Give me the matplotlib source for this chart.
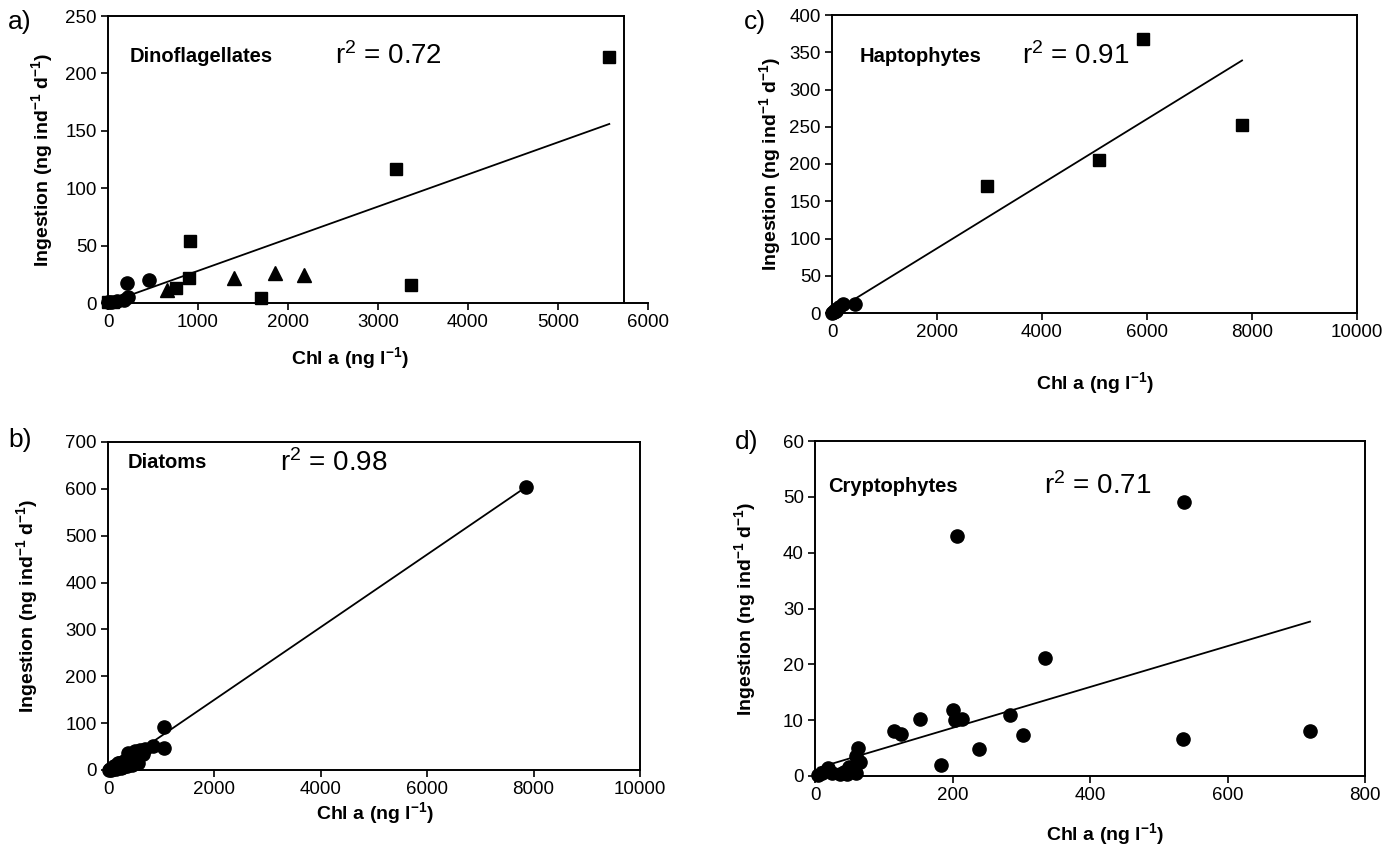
import matplotlib
matplotlib.use("Agg")
import matplotlib.pyplot as plt
import numpy as np

plt.rcParams['font.family'] = ['Liberation Sans', 'DejaVu Sans']
plt.rcParams['mathtext.fontset'] = 'custom'
plt.rcParams['mathtext.rm'] = 'Liberation Sans'
plt.rcParams['mathtext.bf'] = 'Liberation Sans:bold'
plt.rcParams['mathtext.it'] = 'Liberation Sans:italic'

# ---- a) Dinoflagellates ----
dino_sq_x = [5570, 3205, 3370, 910, 900, 750, 1700, 0, 60]
dino_sq_y = [214, 117, 16, 54, 22, 13, 4, 0.5, 1]
dino_tri_x = [650, 1400, 1850, 2180]
dino_tri_y = [11, 22, 26, 24]
dino_ci_x = [210, 450, 0, 30, 100, 180, 220]
dino_ci_y = [17, 20, 0.5, 1, 2, 3, 5]
dino_fit = (0.0280, 0.0)      # slope, intercept
dino_r2 = "0.72"

# ---- b) Diatoms ----
diat_x = [20, 40, 60, 80, 100, 120, 150, 170, 200, 220, 250, 270, 300, 320,
          350, 380, 400, 420, 450, 480, 500, 530, 560, 600, 650, 700, 840,
          1050, 1050, 7850, 150, 250, 350, 450, 300, 200, 100, 50, 180, 280]
diat_y = [1, 2, 3, 4, 5, 8, 6, 10, 12, 9, 14, 11, 15, 18,
          13, 36, 20, 25, 28, 22, 40, 30, 16, 42, 35, 44, 52,
          92, 47, 603, 3, 5, 8, 10, 20, 15, 2, 1, 14, 6]
diat_fit = (0.0775, -5.0)
diat_r2 = "0.98"

# ---- c) Haptophytes ----
hapt_sq_x = [2960, 5080, 5920, 7810]
hapt_sq_y = [171, 205, 368, 252]
hapt_ci_x = [0, 20, 40, 60, 80, 100, 130, 215, 440]
hapt_ci_y = [0, 1, 2, 4, 3, 6, 8, 12, 12]
hapt_fit = (0.0434, 0.0)
hapt_r2 = "0.91"

# ---- d) Cryptophytes ----
cryp_x = [200, 204, 214, 283, 303, 238, 183, 152, 115, 125, 62, 59, 65, 55,
          50, 60, 19, 10, 36, 46, 5, 206, 537, 335, 535, 720, 25, 42]
cryp_y = [11.9, 10, 10.2, 10.9, 7.3, 4.9, 2, 10.2, 8, 7.5, 5.1, 3.6, 2.5, 1.5,
          1.6, 0.6, 1.5, 0.6, 0.3, 0.3, 0.1, 43, 49, 21.2, 6.6, 8, 0.5, 0.8]
cryp_fit = (0.0366, 1.3)
cryp_r2 = "0.71"

W, H = 1400, 861
fig = plt.figure(figsize=(W / 100, H / 100), dpi=100)

YLAB = r'Ingestion (ng ind$^{\mathbf{-1}}$ d$^{\mathbf{-1}}$)'
XLAB = r'Chl a (ng l$^{\mathbf{-1}}$)'


class Panel:
    def __init__(self, left, top, right, bottom):
        self.box = (left, top, right, bottom)
        self.ax = fig.add_axes([left / W, 1 - bottom / H,
                                (right - left) / W, (bottom - top) / H])

    def fx(self, px):
        l, t, r, b = self.box
        return (px - l) / (r - l)

    def fy(self, py):
        l, t, r, b = self.box
        return (b - py) / (b - t)


def style(p, xlim, xticks, ylim, yticks, ylab_px, xlab_px):
    ax = p.ax
    ax.set_xlim(*xlim)
    ax.set_ylim(*ylim)
    ax.set_xticks(xticks)
    ax.set_yticks(yticks)
    ax.tick_params(direction='out', length=5, width=1.2, labelsize=13.5, pad=3,
                   colors='black')
    for s in ax.spines.values():
        s.set_linewidth(1.4)
        s.set_color('black')
    ax.set_ylabel(YLAB, fontsize=14, fontweight='bold')
    ax.set_xlabel(XLAB, fontsize=14, fontweight='bold')
    ax.yaxis.set_label_coords(p.fx(ylab_px), 0.5)
    ax.xaxis.set_label_coords(p.fx(xlab_px[0]), p.fy(xlab_px[1]))


def fit_line(ax, xs, fit):
    slope, icpt = fit
    xx = np.array([min(xs), max(xs)])
    ax.plot(xx, slope * xx + icpt, color='black', lw=1.3, zorder=2)


def titles(p, name, r2, name_px, r2_px, y_px):
    p.ax.text(p.fx(name_px), p.fy(y_px), name, transform=p.ax.transAxes,
              fontsize=14.5, fontweight='bold', va='center', ha='left')
    p.ax.text(p.fx(r2_px), p.fy(y_px), r'r$^2$ = ' + r2, transform=p.ax.transAxes,
              fontsize=20, va='center', ha='left')


mk = dict(color='black', linestyle='none', zorder=3, clip_on=False)

# a)
pa = Panel(108, 16, 648, 303)
ax = pa.ax
fit_line(ax, dino_sq_x + dino_tri_x + dino_ci_x, dino_fit)
ax.plot(dino_sq_x, dino_sq_y, marker='s', ms=8.5, **mk)
ax.plot(dino_tri_x, dino_tri_y, marker='^', ms=9.5, **mk)
ax.plot(dino_ci_x, dino_ci_y, marker='o', ms=9.5, **mk)
style(pa, (0, 6000), range(0, 6001, 1000), (0, 250), range(0, 251, 50),
      55, (350, 345))
# plot-area border closes before the end of the x axis
frame_x = 6000 * pa.fx(624)
ax.spines['right'].set_visible(False)
ax.spines['top'].set_bounds(0, frame_x)
ax.plot([frame_x, frame_x], [0, 250], color='black', lw=1.4, clip_on=False,
        zorder=1)
titles(pa, 'Dinoflagellates', dino_r2, 130, 335, 56)

# c)
pc = Panel(832, 15, 1357, 313)
ax = pc.ax
fit_line(ax, hapt_sq_x + hapt_ci_x, hapt_fit)
ax.plot(hapt_sq_x, hapt_sq_y, marker='s', ms=8.5, **mk)
ax.plot(hapt_ci_x, hapt_ci_y, marker='o', ms=9.5, **mk)
style(pc, (0, 10000), range(0, 10001, 2000), (0, 400), range(0, 401, 50),
      783, (1095, 370))
titles(pc, 'Haptophytes', hapt_r2, 860, 1022, 56)

# b)
pb = Panel(108, 442, 640, 770)
ax = pb.ax
fit_line(ax, diat_x, diat_fit)
ax.plot(diat_x, diat_y, marker='o', ms=9.5, **mk)
style(pb, (0, 10000), range(0, 10001, 2000), (0, 700), range(0, 701, 100),
      40, (375, 800))
titles(pb, 'Diatoms', diat_r2, 128, 280, 463)

# d)
pd_ = Panel(815, 441, 1365, 776)
ax = pd_.ax
fit_line(ax, cryp_x, cryp_fit)
ax.plot(cryp_x, cryp_y, marker='o', ms=9.5, **mk)
style(pd_, (0, 800), range(0, 801, 200), (0, 60), range(0, 61, 10),
      758, (1105, 821))
titles(pd_, 'Cryptophytes', cryp_r2, 828, 1044, 486)

for lab, x, y in [('a)', 8, 22), ('c)', 744, 22), ('b)', 8, 440), ('d)', 735, 442)]:
    fig.text(x / W, 1 - y / H, lab, fontsize=19, ha='left', va='center')

fig.savefig('out.png', dpi=100, facecolor='white')
